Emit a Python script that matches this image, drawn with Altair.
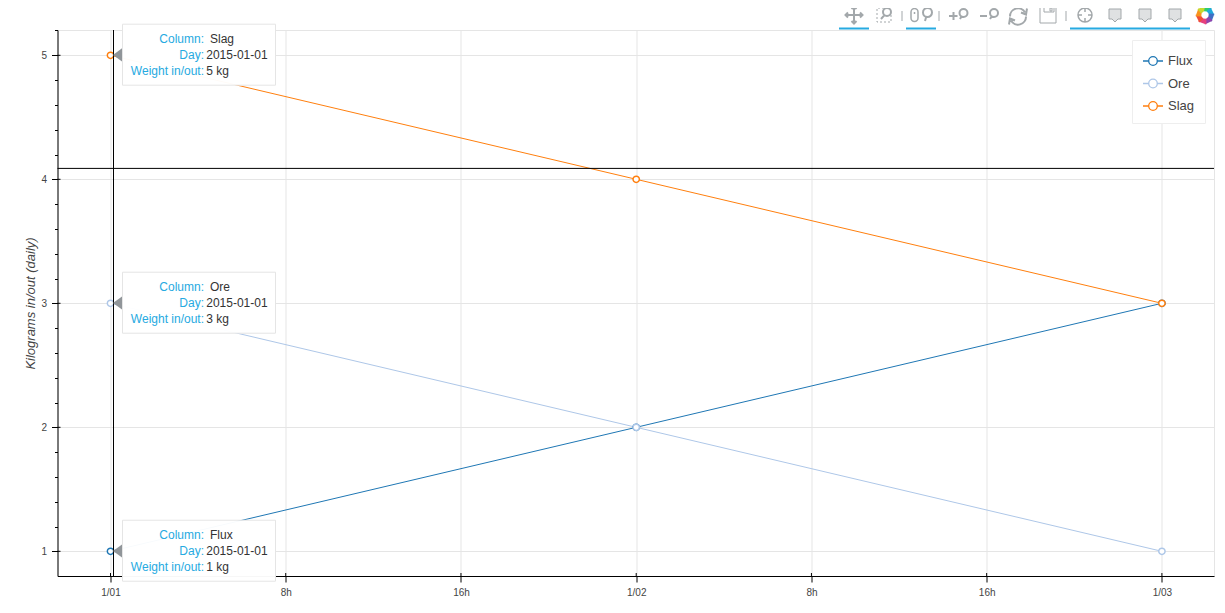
import math
import altair as alt
import pandas as pd

DAYS = ["2015-01-01T00:00:00Z", "2015-01-02T00:00:00Z", "2015-01-03T00:00:00Z"]
SERIES = ["Flux", "Ore", "Slag"]
FLUX = [1, 2, 3]
ORE = [3, 2, 1]
SLAG = [5, 4, 3]
COLORS = ["#1f77b4", "#aec7e8", "#ff7f0e"]
TIP_VALUES = [1, 3, 5]
TIP_DAY = "2015-01-01"
CROSS_X = "2015-01-01T00:08:13Z"
CROSS_Y = 4.088
X_TICK_HOURS = [0, 8, 16, 24, 32, 40, 48]
Y_MAJOR = [1, 2, 3, 4, 5]
Y_TICKS = [0.8, 1, 1.2, 1.4, 1.6, 1.8, 2, 2.2, 2.4, 2.6, 2.8, 3, 3.2, 3.4, 3.6, 3.8, 4,
           4.2, 4.4, 4.6, 4.8, 5, 5.2]

T0 = 1420070400000
HOUR = 3600000
W, H = 1156.5, 546
FONT = "Liberation Sans"
INK = "#444444"
BLUE = "#26aae1"
ICON = "#a3a8ab"

rows = []
for name, vals in zip(SERIES, [FLUX, ORE, SLAG]):
    for d, v in zip(DAYS, vals):
        rows.append({"day": d, "series": name, "kg": v})
df = pd.DataFrame(rows)

tips = pd.DataFrame({
    "day": [DAYS[0]] * 3,
    "kg": TIP_VALUES,
    "column": SERIES,
    "dayText": [TIP_DAY] * 3,
    "weight": [f"{v} kg" for v in TIP_VALUES],
})

x_scale = alt.Scale(type="utc", domain=[T0 - 2.42 * HOUR, T0 + 50.378 * HOUR])
y_scale = alt.Scale(domain=[0.801, 5.204], nice=False, zero=False)
col_scale = alt.Scale(domain=SERIES, range=COLORS)

x_axis = alt.Axis(
    values=[T0 + h * HOUR for h in X_TICK_HOURS],
    labelExpr="utchours(datum.value) == 0 ? '1/0' + utcdate(datum.value) : utchours(datum.value) + 'h'",
    title=None, domainColor="black", tickColor="black", tickSize=6, labelPadding=5,
    labelFont=FONT, labelFontSize=10, labelColor=INK, gridColor="#e5e5e5", grid=True,
    labelFlush=False, labelOverlap=False,
)
major = "abs(datum.value - round(datum.value)) < 0.01"
y_axis = alt.Axis(
    values=Y_TICKS,
    labelExpr="abs(datum.value - round(datum.value)) < 0.01 ? format(datum.value, 'd') : ''",
    title="Kilograms in/out (daily)", titleFont=FONT, titleFontSize=13, titleFontStyle="italic",
    titleFontWeight="normal", titleColor=INK, titlePadding=3,
    domainColor="black", tickColor="black",
    tickSize={"condition": {"test": major, "value": 6}, "value": 3},
    gridOpacity={"condition": {"test": major, "value": 1}, "value": 0},
    gridColor="#e5e5e5", grid=True, labelPadding=5, labelFont=FONT, labelFontSize=10,
    labelColor=INK, labelOverlap=False,
)
X = alt.X("day:T", scale=x_scale, axis=x_axis)
Y = alt.Y("kg:Q", scale=y_scale, axis=y_axis)

ring = "M-1,0H-0.43A0.43,0.43 0 1,1 0.43,0A0.43,0.43 0 1,1 -0.43,0M0.43,0H1"
lines = alt.Chart(df).mark_line(strokeWidth=1, clip=False).encode(
    x=X, y=Y,
    color=alt.Color("series:N", scale=col_scale, legend=alt.Legend(
        title=None, orient="none", legendX=1074.5, legendY=10, fillColor="white",
        strokeColor="#eeeeee", padding=10, symbolType=ring, symbolSize=400,
        symbolStrokeWidth=1.3, labelFont=FONT, labelFontSize=13, labelColor=INK,
        labelOffset=4, rowPadding=4.5, symbolFillColor="white")),
)
points = alt.Chart(df).mark_point(shape="circle", filled=True, fill="white", size=40,
                                  strokeWidth=1.5, opacity=1).encode(
    x=X, y=Y, stroke=alt.Stroke("series:N", scale=col_scale, legend=None), order="series:N")

y_inner = alt.Chart(pd.DataFrame({"kg": Y_MAJOR})).mark_rule(color="black", strokeWidth=1).encode(
    y=Y, x=alt.value(0), x2=alt.value(3))
x_inner = alt.Chart(pd.DataFrame({"day": [T0 + h * HOUR for h in X_TICK_HOURS]})).mark_rule(
    color="black", strokeWidth=1).encode(x=X, y=alt.value(H - 3), y2=alt.value(H))

cross_v = alt.Chart(pd.DataFrame({"day": [CROSS_X]})).mark_rule(color="black", strokeWidth=1).encode(x=X)
cross_h = alt.Chart(pd.DataFrame({"kg": [CROSS_Y]})).mark_rule(color="black", strokeWidth=1).encode(y=Y)

tip_base = alt.Chart(tips).encode(x=X, y=Y)
tip_box = tip_base.mark_rect(width=153, height=61, xOffset=88.5, yOffset=-0.6, fill="white",
                             fillOpacity=0.97, stroke="#e5e5e5", strokeWidth=1)
tip_arrow = tip_base.mark_point(shape="M-1,0L1,-1.45L1,1.45Z", size=81, filled=True,
                                color="#909599", opacity=1, xOffset=7, yOffset=-0.4)
tip_layers = [tip_box, tip_arrow]
for i, (label, field, vx) in enumerate([("Column:", "column", 99.5), ("Day:", "dayText", 95.7),
                                        ("Weight in/out:", "weight", 95.7)]):
    dy = -16.5 + 16 * i
    tip_layers.append(tip_base.mark_text(text=label, align="right", baseline="middle", dx=93.5, dy=dy,
                                         font=FONT, fontSize=12, color=BLUE))
    tip_layers.append(tip_base.mark_text(align="left", baseline="middle", dx=vx, dy=dy,
                                         font=FONT, fontSize=12, color="#333333").encode(text=f"{field}:N"))


def circ(x, y, r):
    return f"M{x-r},{y}A{r},{r} 0 1,1 {x+r},{y}A{r},{r} 0 1,1 {x-r},{y}"


def mag(x, y, r, hx, hy):
    a = math.atan2(hy - y, hx - x)
    return circ(x, y, r) + f"M{x + r * math.cos(a):.2f},{y + r * math.sin(a):.2f}L{hx},{hy}"


bubble = "M-6,-6H6V4H3L0,7L-3,4H-6Z"
ICONS = [
    (854, 15, "M-8,0H8M0,-8V8M-6,-2.5L-8.5,0L-6,2.5M6,-2.5L8.5,0L6,2.5M-2.5,-6L0,-8.5L2.5,-6M-2.5,6L0,8.5L2.5,6", 2, None, None),
    (884, 15, "M0,-7H-7V7H7V0", 1, None, [2, 2]),
    (884, 15, mag(3, -3, 4, -3, 4), 2, None, None),
    (902, 16, "M0,-5V5", 1, None, None),
    (914.5, 15, "M-3.5,-3A3.5,3.5 0 0,1 3.5,-3V3A3.5,3.5 0 0,1 -3.5,3ZM0,-3V-1", 1.5, None, None),
    (915, 15, mag(12.5, -2.5, 4.5, 10, 6), 2, None, None),
    (939, 16, "M0,-5V5", 1, None, None),
    (959, 15, "M-10,1H-1.5M-5.5,-3V5" + mag(4.5, -2, 4, 1, 4), 2, None, None),
    (989, 15, "M-9,1H-2" + mag(5, -2, 4, 1, 4), 2, None, None),
    (1018, 15.5, "M-8,1A8,8 0 0,1 7,-3M9,-7L8,-1L3,-3M8,1A8,8 0 0,1 -7,5M-9,9L-8,3L-3,5", 2, None, None),
    (1048, 15, "M-8,-8H8V8H-8ZM-4,-8V-3H6V-8", 1, None, None),
    (1048, 15, "M2,-7H4V-4H2Z", 1, None, None),
    (1066, 16, "M0,-5V5", 1, None, None),
    (1085, 15, circ(0, 0, 7) + "M0,-7V-3M0,7V3M-7,0H-3M7,0H3", 1.5, None, None),
    (1115, 15, bubble, 1, "#dfe1e2", None),
    (1145, 15, bubble, 1, "#dfe1e2", None),
    (1175, 15, bubble, 1, "#dfe1e2", None),
]
OX, OY = 57.5, 30
one = alt.Data(values=[{"a": 1}])
chrome = []
for px, py, path, sw, fill, dash in ICONS:
    kw = dict(shape=path, size=4, stroke=ICON, strokeWidth=sw, opacity=1)
    if dash:
        kw["strokeDash"] = dash
    if fill:
        kw.update(filled=True, fill=fill)
    else:
        kw.update(filled=False)
    chrome.append(alt.Chart(one).mark_point(**kw).encode(x=alt.value(px - OX), y=alt.value(py - OY)))

for x1, x2 in [(839, 869), (906, 936), (1070, 1190)]:
    chrome.append(alt.Chart(one).mark_rule(color=BLUE, strokeWidth=2).encode(
        x=alt.value(x1 - OX), x2=alt.value(x2 - OX), y=alt.value(-1.5)))

LOGO = ["#2ecc71", "#1fa9dd", "#3f6fc4", "#8e44ad", "#e6407d", "#f04e37", "#f7931e", "#c5d92d"]
for i, c in enumerate(LOGO):
    a0, a1 = math.radians(45 * i - 112), math.radians(45 * i - 58)
    p = (f"M{4 * math.cos(a0):.2f},{4 * math.sin(a0):.2f}L{9.5 * math.cos(a0 + .25):.2f},{9.5 * math.sin(a0 + .25):.2f}"
         f"L{9.5 * math.cos(a1 + .25):.2f},{9.5 * math.sin(a1 + .25):.2f}L{4 * math.cos(a1):.2f},{4 * math.sin(a1):.2f}Z")
    chrome.append(alt.Chart(one).mark_point(shape=p, size=4, filled=True, fill=c, stroke=c, strokeWidth=0,
                                            opacity=1).encode(x=alt.value(1205 - OX), y=alt.value(15 - OY)))

chart = alt.layer(lines, points, y_inner, x_inner, cross_v, cross_h, *tip_layers, *chrome).properties(
    width=W, height=H,
    padding={"left": OX - 8, "top": OY - 8, "right": 2, "bottom": 22},
    autosize=alt.AutoSizeParams(type="none"),
).configure_view(stroke="#e5e5e5", strokeWidth=1)

chart.save("out.html", embed_options={"renderer": "svg", "actions": False})
